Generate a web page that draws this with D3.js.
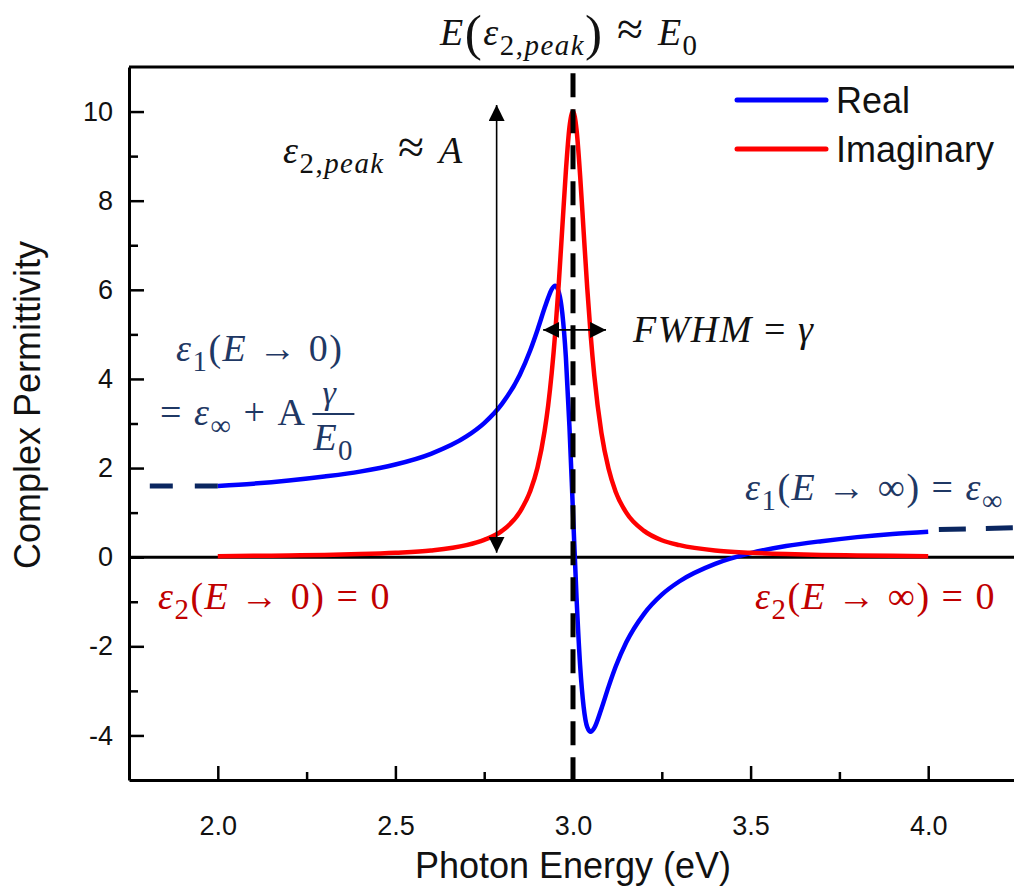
<html>
<head>
<meta charset="utf-8">
<script src="https://d3js.org/d3.v7.min.js"></script>
<style>
  body { margin: 0; background: #fff; }
  text { white-space: pre; }
</style>
</head>
<body>
<svg id="chart" width="1014" height="888"></svg>
<script>

// Lorentz oscillator curves
var energy = [2.0, 2.1, 2.2, 2.3, 2.4, 2.5, 2.6, 2.7, 2.75, 2.8, 2.85, 2.88, 2.9,
  2.92, 2.93, 2.94, 2.95, 2.96, 2.97, 2.98, 2.99, 3.0, 3.01, 3.02, 3.03, 3.04, 3.05, 3.06,
  3.08, 3.1, 3.12, 3.15, 3.2, 3.25, 3.3, 3.4, 3.5, 3.6, 3.7, 3.8, 3.9, 4.0];
var realPart = [1.60, 1.65, 1.72, 1.81, 1.92, 2.08, 2.32, 2.71, 3.01, 3.44, 4.09, 4.65, 5.10,
  5.59, 5.82, 6.01, 6.09, 5.95, 5.47, 4.48, 2.93, 1.00, -0.91, -2.42, -3.36, -3.81, -3.92, -3.83,
  -3.40, -2.91, -2.46, -1.91, -1.27, -0.84, -0.54, -0.15, 0.09, 0.25, 0.36, 0.45, 0.52, 0.57];
var imagPart = [0.02, 0.03, 0.04, 0.05, 0.07, 0.10, 0.15, 0.27, 0.39, 0.59, 1.01, 1.49, 2.01,
  2.83, 3.40, 4.13, 5.04, 6.15, 7.41, 8.67, 9.65, 10.00, 9.59, 8.57, 7.30, 6.05, 4.96, 4.07,
  2.79, 1.99, 1.47, 1.00, 0.59, 0.38, 0.27, 0.15, 0.10, 0.07, 0.05, 0.04, 0.03, 0.02];

// dashed asymptotes of the real part
var lowAsym = [[1.75, 1.60], [2.0, 1.60]];
var highAsym = [[4.03, 0.62], [4.25, 0.66]];

var xTicks = [2.0, 2.5, 3.0, 3.5, 4.0];
var xMinor = [2.25, 2.75, 3.25, 3.75];
var yTicks = [-4, -2, 0, 2, 4, 6, 8, 10];
var yMinor = [-3, -1, 1, 3, 5, 7, 9];

var seriesNames = ["Real", "Imaginary"];
var seriesColors = ["#0000ff", "#ff0000"];

var svg = d3.select("#chart");
var mathFont = "'Liberation Serif', 'Times New Roman', serif";
var sansFont = "'Liberation Sans', Arial, Helvetica, sans-serif";
var navy = "#1f3864";
var darkRed = "#c00000";

var x = d3.scaleLinear().domain([1.75, 4.25]).range([129, 1017]);
var y = d3.scaleLinear().domain([-5, 11]).range([780, 67]);

// frame top + zero line
svg.append("line").attr("x1", x(1.75)).attr("x2", 1014).attr("y1", y(11)).attr("y2", y(11))
  .attr("stroke", "#000").attr("stroke-width", 3);
svg.append("line").attr("x1", x(1.75)).attr("x2", 1014).attr("y1", y(0)).attr("y2", y(0))
  .attr("stroke", "#000").attr("stroke-width", 3);

// x axis
svg.append("g").attr("transform", "translate(0," + y(-5) + ")")
  .call(d3.axisBottom(x).tickValues(xTicks).tickFormat(d3.format(".1f"))
    .tickSizeInner(-14).tickSizeOuter(0).tickPadding(36));
svg.append("g").attr("transform", "translate(0," + y(-5) + ")")
  .call(d3.axisBottom(x).tickValues(xMinor).tickFormat("").tickSizeInner(-8).tickSizeOuter(0))
  .select(".domain").remove();

// y axis (plain hyphen for negatives, as in the original)
svg.append("g").attr("transform", "translate(" + x(1.75) + ",0)")
  .call(d3.axisLeft(y).tickValues(yTicks).tickFormat(function(d) { return String(d); })
    .tickSizeInner(-15).tickSizeOuter(0).tickPadding(16));
svg.append("g").attr("transform", "translate(" + x(1.75) + ",0)")
  .call(d3.axisLeft(y).tickValues(yMinor).tickFormat("").tickSizeInner(-9).tickSizeOuter(0))
  .select(".domain").remove();

svg.selectAll(".domain").attr("stroke-width", 3);
svg.selectAll(".tick line").attr("stroke-width", 2.5);
svg.selectAll(".tick text").style("font-family", sansFont).style("font-size", "27px").attr("fill", "#111");

svg.append("text").attr("x", x(3.0)).attr("y", 878).attr("text-anchor", "middle")
  .style("font-family", sansFont).style("font-size", "36px").attr("fill", "#111")
  .text("Photon Energy (eV)");
svg.append("text").attr("transform", "translate(40,405) rotate(-90)")
  .attr("text-anchor", "middle")
  .style("font-family", sansFont).style("font-size", "36px").attr("fill", "#111")
  .text("Complex Permittivity");

// curves
var line = d3.line().x(function(d) { return x(d[0]); }).y(function(d) { return y(d[1]); })
  .curve(d3.curveMonotoneX);
var realData = energy.map(function(e, i) { return [e, realPart[i]]; });
var imagData = energy.map(function(e, i) { return [e, imagPart[i]]; });

svg.append("path").datum(realData).attr("d", line).attr("fill", "none")
  .attr("stroke", seriesColors[0]).attr("stroke-width", 4.5).attr("stroke-linejoin", "round");
svg.append("path").datum(imagData).attr("d", line).attr("fill", "none")
  .attr("stroke", seriesColors[1]).attr("stroke-width", 4.5).attr("stroke-linejoin", "round");

var straight = d3.line().x(function(d) { return x(d[0]); }).y(function(d) { return y(d[1]); });
svg.append("path").datum(lowAsym.slice().reverse()).attr("d", straight).attr("fill", "none")
  .attr("stroke", "#0a2660").attr("stroke-width", 5).attr("stroke-dasharray", "23,22");
svg.append("path").datum(highAsym).attr("d", straight).attr("fill", "none")
  .attr("stroke", "#0a2660").attr("stroke-width", 5).attr("stroke-dasharray", "27,20");

// E0 marker
svg.append("line").attr("x1", x(3.0)).attr("x2", x(3.0)).attr("y1", y(10.86)).attr("y2", y(-5))
  .attr("stroke", "#000").attr("stroke-width", 5).attr("stroke-dasharray", "24,12");

// arrows
var defs = svg.append("defs");
defs.append("marker").attr("id", "head").attr("viewBox", "0 0 10 10")
  .attr("refX", 10).attr("refY", 5).attr("markerWidth", 10).attr("markerHeight", 10)
  .attr("markerUnits", "strokeWidth").attr("orient", "auto-start-reverse")
  .append("path").attr("d", "M0,0 L10,5 L0,10 Z").attr("fill", "#000");

svg.append("line").attr("x1", x(2.785)).attr("x2", x(2.785)).attr("y1", y(0.1)).attr("y2", y(10.15))
  .attr("stroke", "#000").attr("stroke-width", 1.6)
  .attr("marker-start", "url(#head)").attr("marker-end", "url(#head)");
svg.append("line").attr("x1", x(2.916)).attr("x2", x(3.093)).attr("y1", y(5.1)).attr("y2", y(5.1))
  .attr("stroke", "#000").attr("stroke-width", 1.6)
  .attr("marker-start", "url(#head)").attr("marker-end", "url(#head)");

// legend
seriesNames.forEach(function(name, i) {
  var ly = 100 + i * 49;
  svg.append("line").attr("x1", 737).attr("x2", 826).attr("y1", ly).attr("y2", ly)
    .attr("stroke", seriesColors[i]).attr("stroke-width", 5).attr("stroke-linecap", "round");
  svg.append("text").attr("x", 836).attr("y", ly + 13)
    .style("font-family", sansFont).style("font-size", "36px").attr("fill", "#111").text(name);
});

// math annotations
function mathText(px, py, size, color, segs) {
  var t = svg.append("text").attr("x", px).attr("y", py)
    .style("font-family", mathFont).style("font-size", size + "px")
    .style("letter-spacing", "1.5px").attr("fill", color);
  var cur = 0;
  segs.forEach(function(s) {
    var k = s[1], off = 0, fs = size, st = "italic";
    if (k.indexOf("sub") === 0) { off = 0.25 * size; fs = 0.76 * size; }
    if (k === "big") { off = 0.12 * size; fs = 1.35 * size; }
    if (k === "rel") { fs = 1.25 * size; }
    if (k === "r" || k === "sub-r" || k === "big" || k === "rel") st = "normal";
    t.append("tspan").attr("dy", off - cur).style("font-size", fs + "px")
      .style("font-style", st).text(s[0]);
    cur = off;
  });
  return t;
}

mathText(440, 45, 38, "#111", [["E", "i"], ["(", "big"], ["ε", "i"], ["2,", "sub-r"], ["peak", "sub"],
  [")", "big"], [" ≈ ", "rel"], ["E", "i"], ["0", "sub-r"]]);
mathText(283, 163, 38, "#111", [["ε", "i"], ["2,", "sub-r"], ["peak", "sub"], [" ≈ ", "rel"], ["A", "i"]]);
mathText(633, 342, 38, "#111", [["FWHM", "i"], [" = ", "r"], ["γ", "i"]]);

mathText(176, 361, 38, navy, [["ε", "i"], ["1", "sub-r"], ["(", "r"], ["E", "i"], [" → 0)", "r"]]);
var eqLine = mathText(160, 425, 38, navy, [["= ", "r"], ["ε", "i"], ["∞", "sub-r"], [" + A", "r"]]);
var fx = 160 + eqLine.node().getComputedTextLength() + 6;
mathText(fx + 10, 404, 34, navy, [["γ", "i"]]);
svg.append("line").attr("x1", fx).attr("x2", fx + 42).attr("y1", 414).attr("y2", 414)
  .attr("stroke", navy).attr("stroke-width", 2);
mathText(fx + 1, 450, 38, navy, [["E", "i"], ["0", "sub-r"]]);

mathText(745, 500, 38, navy, [["ε", "i"], ["1", "sub-r"], ["(", "r"], ["E", "i"], [" → ∞) = ", "r"],
  ["ε", "i"], ["∞", "sub-r"]]);
mathText(158, 609, 38, darkRed, [["ε", "i"], ["2", "sub-r"], ["(", "r"], ["E", "i"], [" → 0) = 0", "r"]]);
mathText(755, 609, 38, darkRed, [["ε", "i"], ["2", "sub-r"], ["(", "r"], ["E", "i"], [" → ∞) = 0", "r"]]);

</script>
</body>
</html>
